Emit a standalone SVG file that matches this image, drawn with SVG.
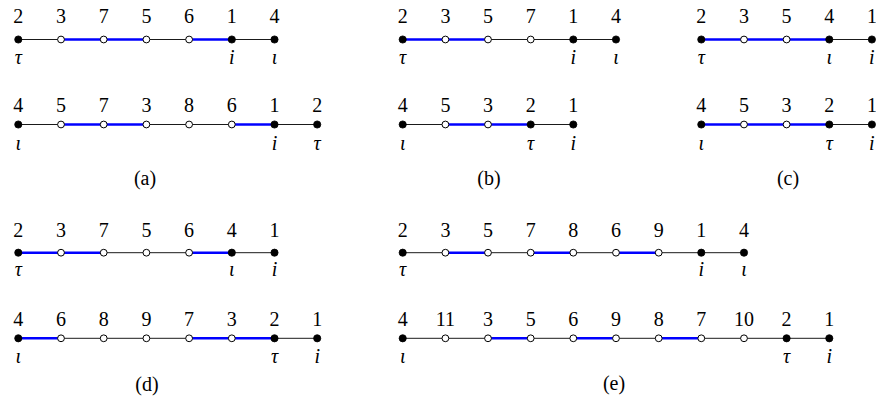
<svg xmlns="http://www.w3.org/2000/svg" width="876" height="402" viewBox="0 0 876 402">
<style>
.e{stroke:#000;stroke-width:0.9;fill:none}
.b{stroke:#0000ff;stroke-width:2.4;fill:none}
.f{fill:#000;stroke:#000;stroke-width:0.8}
.o{fill:#fff;stroke:#000;stroke-width:1}
text{font-family:"Liberation Serif","Times New Roman",serif;font-size:20px;fill:#000;text-anchor:middle}
.l{font-style:italic}
</style>
<rect width="876" height="402" fill="#fff"/>
<g id="connectors">
<line class="e" x1="18.3" y1="39.5" x2="61" y2="39.5"/>
<line class="b" x1="61" y1="39.5" x2="103.7" y2="39.5"/>
<line class="b" x1="103.7" y1="39.5" x2="146.4" y2="39.5"/>
<line class="e" x1="146.4" y1="39.5" x2="189.1" y2="39.5"/>
<line class="b" x1="189.1" y1="39.5" x2="231.8" y2="39.5"/>
<line class="e" x1="231.8" y1="39.5" x2="274.5" y2="39.5"/>
<line class="e" x1="18.3" y1="124.5" x2="61" y2="124.5"/>
<line class="b" x1="61" y1="124.5" x2="103.7" y2="124.5"/>
<line class="b" x1="103.7" y1="124.5" x2="146.4" y2="124.5"/>
<line class="e" x1="146.4" y1="124.5" x2="189.1" y2="124.5"/>
<line class="e" x1="189.1" y1="124.5" x2="231.8" y2="124.5"/>
<line class="b" x1="231.8" y1="124.5" x2="274.5" y2="124.5"/>
<line class="e" x1="274.5" y1="124.5" x2="317.2" y2="124.5"/>
<line class="b" x1="402.7" y1="39.5" x2="445.4" y2="39.5"/>
<line class="b" x1="445.4" y1="39.5" x2="488" y2="39.5"/>
<line class="e" x1="488" y1="39.5" x2="530.7" y2="39.5"/>
<line class="e" x1="530.7" y1="39.5" x2="573.3" y2="39.5"/>
<line class="e" x1="573.3" y1="39.5" x2="616" y2="39.5"/>
<line class="e" x1="402.7" y1="124.5" x2="445.4" y2="124.5"/>
<line class="b" x1="445.4" y1="124.5" x2="488" y2="124.5"/>
<line class="b" x1="488" y1="124.5" x2="530.7" y2="124.5"/>
<line class="e" x1="530.7" y1="124.5" x2="573.3" y2="124.5"/>
<line class="b" x1="701.3" y1="39.5" x2="744" y2="39.5"/>
<line class="b" x1="744" y1="39.5" x2="786.6" y2="39.5"/>
<line class="b" x1="786.6" y1="39.5" x2="829.3" y2="39.5"/>
<line class="e" x1="829.3" y1="39.5" x2="871.9" y2="39.5"/>
<line class="b" x1="701.3" y1="124.5" x2="744" y2="124.5"/>
<line class="b" x1="744" y1="124.5" x2="786.6" y2="124.5"/>
<line class="b" x1="786.6" y1="124.5" x2="829.3" y2="124.5"/>
<line class="e" x1="829.3" y1="124.5" x2="871.9" y2="124.5"/>
<line class="b" x1="18.3" y1="252.7" x2="61" y2="252.7"/>
<line class="b" x1="61" y1="252.7" x2="103.7" y2="252.7"/>
<line class="e" x1="103.7" y1="252.7" x2="146.4" y2="252.7"/>
<line class="e" x1="146.4" y1="252.7" x2="189.1" y2="252.7"/>
<line class="b" x1="189.1" y1="252.7" x2="231.8" y2="252.7"/>
<line class="e" x1="231.8" y1="252.7" x2="274.5" y2="252.7"/>
<line class="b" x1="18.3" y1="338.3" x2="61" y2="338.3"/>
<line class="e" x1="61" y1="338.3" x2="103.7" y2="338.3"/>
<line class="e" x1="103.7" y1="338.3" x2="146.4" y2="338.3"/>
<line class="e" x1="146.4" y1="338.3" x2="189.1" y2="338.3"/>
<line class="b" x1="189.1" y1="338.3" x2="231.8" y2="338.3"/>
<line class="b" x1="231.8" y1="338.3" x2="274.5" y2="338.3"/>
<line class="e" x1="274.5" y1="338.3" x2="317.2" y2="338.3"/>
<line class="e" x1="402.7" y1="252.7" x2="445.4" y2="252.7"/>
<line class="b" x1="445.4" y1="252.7" x2="488" y2="252.7"/>
<line class="e" x1="488" y1="252.7" x2="530.7" y2="252.7"/>
<line class="b" x1="530.7" y1="252.7" x2="573.3" y2="252.7"/>
<line class="e" x1="573.3" y1="252.7" x2="616" y2="252.7"/>
<line class="b" x1="616" y1="252.7" x2="658.7" y2="252.7"/>
<line class="e" x1="658.7" y1="252.7" x2="701.3" y2="252.7"/>
<line class="e" x1="701.3" y1="252.7" x2="744" y2="252.7"/>
<line class="e" x1="402.7" y1="338.3" x2="445.4" y2="338.3"/>
<line class="e" x1="445.4" y1="338.3" x2="488" y2="338.3"/>
<line class="b" x1="488" y1="338.3" x2="530.7" y2="338.3"/>
<line class="e" x1="530.7" y1="338.3" x2="573.3" y2="338.3"/>
<line class="b" x1="573.3" y1="338.3" x2="616" y2="338.3"/>
<line class="e" x1="616" y1="338.3" x2="658.7" y2="338.3"/>
<line class="b" x1="658.7" y1="338.3" x2="701.3" y2="338.3"/>
<line class="e" x1="701.3" y1="338.3" x2="744" y2="338.3"/>
<line class="e" x1="744" y1="338.3" x2="786.6" y2="338.3"/>
<line class="e" x1="786.6" y1="338.3" x2="829.3" y2="338.3"/>
</g>

<g id="a1-0"><circle class="f" cx="18.3" cy="39.5" r="3.6"/><text x="18.3" y="22.7">2</text><text class="l" x="18.3" y="64">τ</text></g>
<g id="a1-1"><circle class="o" cx="61" cy="39.5" r="3.4"/><text x="61" y="22.7">3</text></g>
<g id="a1-2"><circle class="o" cx="103.7" cy="39.5" r="3.4"/><text x="103.7" y="22.7">7</text></g>
<g id="a1-3"><circle class="o" cx="146.4" cy="39.5" r="3.4"/><text x="146.4" y="22.7">5</text></g>
<g id="a1-4"><circle class="o" cx="189.1" cy="39.5" r="3.4"/><text x="189.1" y="22.7">6</text></g>
<g id="a1-5"><circle class="f" cx="231.8" cy="39.5" r="3.6"/><text x="231.8" y="22.7">1</text><text class="l" x="231.8" y="64">i</text></g>
<g id="a1-6"><circle class="f" cx="274.5" cy="39.5" r="3.6"/><text x="274.5" y="22.7">4</text><text class="l" x="274.5" y="64">ι</text></g>
<g id="a2-0"><circle class="f" cx="18.3" cy="124.5" r="3.6"/><text x="18.3" y="111.7">4</text><text class="l" x="18.3" y="149.5">ι</text></g>
<g id="a2-1"><circle class="o" cx="61" cy="124.5" r="3.4"/><text x="61" y="111.7">5</text></g>
<g id="a2-2"><circle class="o" cx="103.7" cy="124.5" r="3.4"/><text x="103.7" y="111.7">7</text></g>
<g id="a2-3"><circle class="o" cx="146.4" cy="124.5" r="3.4"/><text x="146.4" y="111.7">3</text></g>
<g id="a2-4"><circle class="o" cx="189.1" cy="124.5" r="3.4"/><text x="189.1" y="111.7">8</text></g>
<g id="a2-5"><circle class="o" cx="231.8" cy="124.5" r="3.4"/><text x="231.8" y="111.7">6</text></g>
<g id="a2-6"><circle class="f" cx="274.5" cy="124.5" r="3.6"/><text x="274.5" y="111.7">1</text><text class="l" x="274.5" y="149.5">i</text></g>
<g id="a2-7"><circle class="f" cx="317.2" cy="124.5" r="3.6"/><text x="317.2" y="111.7">2</text><text class="l" x="317.2" y="149.5">τ</text></g>
<text id="cap-a" x="145" y="185">(a)</text>

<g id="b1-0"><circle class="f" cx="402.7" cy="39.5" r="3.6"/><text x="402.7" y="22.7">2</text><text class="l" x="402.7" y="64">τ</text></g>
<g id="b1-1"><circle class="o" cx="445.4" cy="39.5" r="3.4"/><text x="445.4" y="22.7">3</text></g>
<g id="b1-2"><circle class="o" cx="488" cy="39.5" r="3.4"/><text x="488" y="22.7">5</text></g>
<g id="b1-3"><circle class="o" cx="530.7" cy="39.5" r="3.4"/><text x="530.7" y="22.7">7</text></g>
<g id="b1-4"><circle class="f" cx="573.3" cy="39.5" r="3.6"/><text x="573.3" y="22.7">1</text><text class="l" x="573.3" y="64">i</text></g>
<g id="b1-5"><circle class="f" cx="616" cy="39.5" r="3.6"/><text x="616" y="22.7">4</text><text class="l" x="616" y="64">ι</text></g>
<g id="b2-0"><circle class="f" cx="402.7" cy="124.5" r="3.6"/><text x="402.7" y="111.7">4</text><text class="l" x="402.7" y="149.5">ι</text></g>
<g id="b2-1"><circle class="o" cx="445.4" cy="124.5" r="3.4"/><text x="445.4" y="111.7">5</text></g>
<g id="b2-2"><circle class="o" cx="488" cy="124.5" r="3.4"/><text x="488" y="111.7">3</text></g>
<g id="b2-3"><circle class="f" cx="530.7" cy="124.5" r="3.6"/><text x="530.7" y="111.7">2</text><text class="l" x="530.7" y="149.5">τ</text></g>
<g id="b2-4"><circle class="f" cx="573.3" cy="124.5" r="3.6"/><text x="573.3" y="111.7">1</text><text class="l" x="573.3" y="149.5">i</text></g>
<text id="cap-b" x="489" y="185">(b)</text>

<g id="c1-0"><circle class="f" cx="701.3" cy="39.5" r="3.6"/><text x="701.3" y="22.7">2</text><text class="l" x="701.3" y="64">τ</text></g>
<g id="c1-1"><circle class="o" cx="744" cy="39.5" r="3.4"/><text x="744" y="22.7">3</text></g>
<g id="c1-2"><circle class="o" cx="786.6" cy="39.5" r="3.4"/><text x="786.6" y="22.7">5</text></g>
<g id="c1-3"><circle class="f" cx="829.3" cy="39.5" r="3.6"/><text x="829.3" y="22.7">4</text><text class="l" x="829.3" y="64">ι</text></g>
<g id="c1-4"><circle class="f" cx="871.9" cy="39.5" r="3.6"/><text x="871.9" y="22.7">1</text><text class="l" x="871.9" y="64">i</text></g>
<g id="c2-0"><circle class="f" cx="701.3" cy="124.5" r="3.6"/><text x="701.3" y="111.7">4</text><text class="l" x="701.3" y="149.5">ι</text></g>
<g id="c2-1"><circle class="o" cx="744" cy="124.5" r="3.4"/><text x="744" y="111.7">5</text></g>
<g id="c2-2"><circle class="o" cx="786.6" cy="124.5" r="3.4"/><text x="786.6" y="111.7">3</text></g>
<g id="c2-3"><circle class="f" cx="829.3" cy="124.5" r="3.6"/><text x="829.3" y="111.7">2</text><text class="l" x="829.3" y="149.5">τ</text></g>
<g id="c2-4"><circle class="f" cx="871.9" cy="124.5" r="3.6"/><text x="871.9" y="111.7">1</text><text class="l" x="871.9" y="149.5">i</text></g>
<text id="cap-c" x="788" y="185">(c)</text>

<g id="d1-0"><circle class="f" cx="18.3" cy="252.7" r="3.6"/><text x="18.3" y="237">2</text><text class="l" x="18.3" y="276">τ</text></g>
<g id="d1-1"><circle class="o" cx="61" cy="252.7" r="3.4"/><text x="61" y="237">3</text></g>
<g id="d1-2"><circle class="o" cx="103.7" cy="252.7" r="3.4"/><text x="103.7" y="237">7</text></g>
<g id="d1-3"><circle class="o" cx="146.4" cy="252.7" r="3.4"/><text x="146.4" y="237">5</text></g>
<g id="d1-4"><circle class="o" cx="189.1" cy="252.7" r="3.4"/><text x="189.1" y="237">6</text></g>
<g id="d1-5"><circle class="f" cx="231.8" cy="252.7" r="3.6"/><text x="231.8" y="237">4</text><text class="l" x="231.8" y="276">ι</text></g>
<g id="d1-6"><circle class="f" cx="274.5" cy="252.7" r="3.6"/><text x="274.5" y="237">1</text><text class="l" x="274.5" y="276">i</text></g>
<g id="d2-0"><circle class="f" cx="18.3" cy="338.3" r="3.6"/><text x="18.3" y="325.5">4</text><text class="l" x="18.3" y="362.5">ι</text></g>
<g id="d2-1"><circle class="o" cx="61" cy="338.3" r="3.4"/><text x="61" y="325.5">6</text></g>
<g id="d2-2"><circle class="o" cx="103.7" cy="338.3" r="3.4"/><text x="103.7" y="325.5">8</text></g>
<g id="d2-3"><circle class="o" cx="146.4" cy="338.3" r="3.4"/><text x="146.4" y="325.5">9</text></g>
<g id="d2-4"><circle class="o" cx="189.1" cy="338.3" r="3.4"/><text x="189.1" y="325.5">7</text></g>
<g id="d2-5"><circle class="o" cx="231.8" cy="338.3" r="3.4"/><text x="231.8" y="325.5">3</text></g>
<g id="d2-6"><circle class="f" cx="274.5" cy="338.3" r="3.6"/><text x="274.5" y="325.5">2</text><text class="l" x="274.5" y="362.5">τ</text></g>
<g id="d2-7"><circle class="f" cx="317.2" cy="338.3" r="3.6"/><text x="317.2" y="325.5">1</text><text class="l" x="317.2" y="362.5">i</text></g>
<text id="cap-d" x="147" y="391">(d)</text>

<g id="e1-0"><circle class="f" cx="402.7" cy="252.7" r="3.6"/><text x="402.7" y="237">2</text><text class="l" x="402.7" y="276">τ</text></g>
<g id="e1-1"><circle class="o" cx="445.4" cy="252.7" r="3.4"/><text x="445.4" y="237">3</text></g>
<g id="e1-2"><circle class="o" cx="488" cy="252.7" r="3.4"/><text x="488" y="237">5</text></g>
<g id="e1-3"><circle class="o" cx="530.7" cy="252.7" r="3.4"/><text x="530.7" y="237">7</text></g>
<g id="e1-4"><circle class="o" cx="573.3" cy="252.7" r="3.4"/><text x="573.3" y="237">8</text></g>
<g id="e1-5"><circle class="o" cx="616" cy="252.7" r="3.4"/><text x="616" y="237">6</text></g>
<g id="e1-6"><circle class="o" cx="658.7" cy="252.7" r="3.4"/><text x="658.7" y="237">9</text></g>
<g id="e1-7"><circle class="f" cx="701.3" cy="252.7" r="3.6"/><text x="701.3" y="237">1</text><text class="l" x="701.3" y="276">i</text></g>
<g id="e1-8"><circle class="f" cx="744" cy="252.7" r="3.6"/><text x="744" y="237">4</text><text class="l" x="744" y="276">ι</text></g>
<g id="e2-0"><circle class="f" cx="402.7" cy="338.3" r="3.6"/><text x="402.7" y="325.5">4</text><text class="l" x="402.7" y="362.5">ι</text></g>
<g id="e2-1"><circle class="o" cx="445.4" cy="338.3" r="3.4"/><text x="445.4" y="325.5">11</text></g>
<g id="e2-2"><circle class="o" cx="488" cy="338.3" r="3.4"/><text x="488" y="325.5">3</text></g>
<g id="e2-3"><circle class="o" cx="530.7" cy="338.3" r="3.4"/><text x="530.7" y="325.5">5</text></g>
<g id="e2-4"><circle class="o" cx="573.3" cy="338.3" r="3.4"/><text x="573.3" y="325.5">6</text></g>
<g id="e2-5"><circle class="o" cx="616" cy="338.3" r="3.4"/><text x="616" y="325.5">9</text></g>
<g id="e2-6"><circle class="o" cx="658.7" cy="338.3" r="3.4"/><text x="658.7" y="325.5">8</text></g>
<g id="e2-7"><circle class="o" cx="701.3" cy="338.3" r="3.4"/><text x="701.3" y="325.5">7</text></g>
<g id="e2-8"><circle class="o" cx="744" cy="338.3" r="3.4"/><text x="744" y="325.5">10</text></g>
<g id="e2-9"><circle class="f" cx="786.6" cy="338.3" r="3.6"/><text x="786.6" y="325.5">2</text><text class="l" x="786.6" y="362.5">τ</text></g>
<g id="e2-10"><circle class="f" cx="829.3" cy="338.3" r="3.6"/><text x="829.3" y="325.5">1</text><text class="l" x="829.3" y="362.5">i</text></g>
<text id="cap-e" x="614" y="390">(e)</text>
</svg>
